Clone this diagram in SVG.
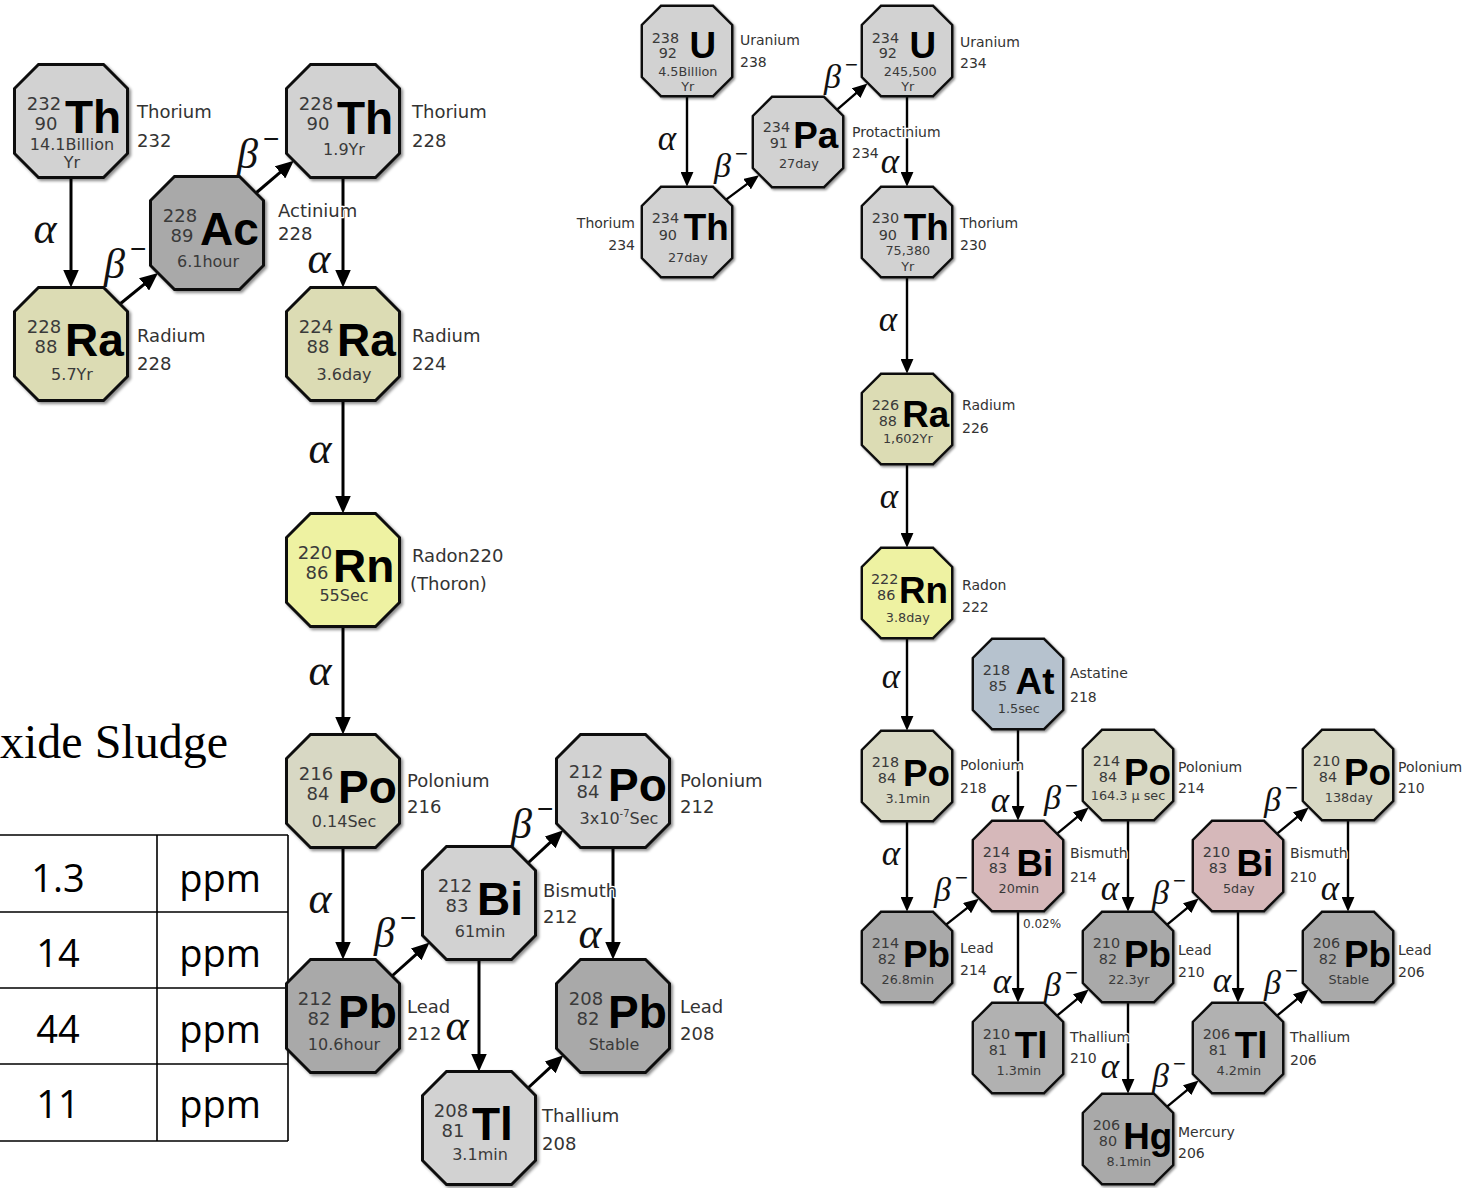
<svg xmlns="http://www.w3.org/2000/svg" xmlns:xlink="http://www.w3.org/1999/xlink" width="1481" height="1188" viewBox="0 0 1481 1188">
<style>
  .oct { stroke: #111; stroke-width: 3; stroke-linejoin: miter; }
  .f-lt { fill: #d2d2d2; }
  .f-dk { fill: #a9a9a9; }
  .f-tl { fill: #b1b1b1; }
  .f-ra { fill: #dcdcb4; }
  .f-rn { fill: #eef2a2; }
  .f-po { fill: #d8d8c4; }
  .f-at { fill: #b6c2ce; }
  .f-bi { fill: #d6b8ba; }
  .ms { font-family: "DejaVu Sans", sans-serif; font-size: 18px; fill: #3a3a3a; text-anchor: middle; }
  .sy { font-family: "Liberation Sans", Arial, sans-serif; font-weight: bold; font-size: 46px; fill: #000; }
  .hl { font-family: "DejaVu Sans", sans-serif; font-size: 16px; fill: #3a3a3a; text-anchor: middle; }
  .sup { font-size: 10px; }
  .nm-lg, .nm-sm { font-family: "DejaVu Sans", sans-serif; fill: #333; stroke: #fff; stroke-width: 2.5px; paint-order: stroke; stroke-linejoin: round; }
  .nm-lg { font-size: 18px; }
  .nm-sm { font-size: 14px; }
  .c-lg, .c-sm { stroke: #000; fill: none; }
  .c-lg { stroke-width: 3; marker-end: url(#ah-lg); }
  .c-sm { stroke-width: 2.4; marker-end: url(#ah-sm); }
  .ga-lg, .ga-sm, .gb-lg, .gb-sm { font-family: "Liberation Serif", "DejaVu Serif", serif; font-style: italic; fill: #111; }
  .ga-lg { font-size: 44px; text-anchor: middle; }
  .ga-sm { font-size: 35px; text-anchor: middle; }
  .gb-lg { font-size: 42px; }
  .gb-sm { font-size: 34px; }
  .mi-lg, .mi-sm { font-family: "Liberation Sans", sans-serif; font-style: normal; }
  .mi-lg { font-size: 28px; }
  .mi-sm { font-size: 22px; }
  .pct { font-family: "DejaVu Sans", sans-serif; font-size: 12px; fill: #333; }
  .tbl { stroke: #000; stroke-width: 1.6; fill: none; }
  .tv { font-family: "Open Sans", "Liberation Sans", sans-serif; font-size: 38px; fill: #000; text-anchor: middle; }
  .ttl { font-family: "Liberation Serif", "Times New Roman", serif; font-size: 48px; fill: #000; }
</style>
<defs>
  <filter id="shadow" x="-20%" y="-20%" width="150%" height="150%">
    <feDropShadow dx="2" dy="2" stdDeviation="1.5" flood-color="#000" flood-opacity="0.45"/>
  </filter>
  <path id="oct" class="oct" filter="url(#shadow)" d="M-32.5,-56.5 L32.5,-56.5 L56.5,-32.5 L56.5,32.5 L32.5,56.5 L-32.5,56.5 L-56.5,32.5 L-56.5,-32.5 Z"/>
  <marker id="ah-lg" viewBox="0 0 18 16" refX="2" refY="8" markerWidth="18" markerHeight="16" markerUnits="userSpaceOnUse" orient="auto">
    <path d="M0,0 L18,8 L0,16 Z" fill="#000"/>
  </marker>
  <marker id="ah-sm" viewBox="0 0 15 13" refX="2" refY="6.5" markerWidth="15" markerHeight="13" markerUnits="userSpaceOnUse" orient="auto">
    <path d="M0,0 L15,6.5 L0,13 Z" fill="#000"/>
  </marker>
</defs>

<rect width="1481" height="1188" fill="#fff"/>

<!-- sludge concentration table -->
<g id="table">
  <text class="ttl" x="0" y="758">xide Sludge</text>
  <path class="tbl" d="M0,835 H288 M0,912 H288 M0,988 H288 M0,1064 H288 M0,1141 H288 M157,835 V1141 M288,835 V1141"/>
  <text class="tv" x="58" y="892">1.3</text><text class="tv" x="220" y="892">ppm</text>
  <text class="tv" x="58" y="967">14</text><text class="tv" x="220" y="967">ppm</text>
  <text class="tv" x="58" y="1043">44</text><text class="tv" x="220" y="1043">ppm</text>
  <text class="tv" x="58" y="1118">11</text><text class="tv" x="220" y="1118">ppm</text>
</g>

<!-- decay arrows with their labels -->
<g id="connectors">
  <!-- thorium series -->
  <line class="c-lg" x1="71" y1="177.5" x2="71" y2="271.5"/>
  <text class="ga-lg" x="45" y="243">α</text>
  <line class="c-lg" x1="120" y1="304" x2="145.6" y2="283.1"/>
  <text class="gb-lg" x="104" y="278">β<tspan class="mi-lg" dx="5" dy="-20">−</tspan></text>
  <line class="c-lg" x1="256" y1="193" x2="281.6" y2="171.1"/>
  <text class="gb-lg" x="237" y="168">β<tspan class="mi-lg" dx="5" dy="-20">−</tspan></text>
  <line class="c-lg" x1="343" y1="177.5" x2="343" y2="271.5"/>
  <text class="ga-lg" x="319" y="273">α</text>
  <line class="c-lg" x1="343" y1="400.5" x2="343" y2="497.5"/>
  <text class="ga-lg" x="320" y="463">α</text>
  <line class="c-lg" x1="343" y1="626.5" x2="343" y2="718.5"/>
  <text class="ga-lg" x="320" y="685">α</text>
  <line class="c-lg" x1="343" y1="847.5" x2="343" y2="943.5"/>
  <text class="ga-lg" x="320" y="913">α</text>
  <line class="c-lg" x1="392" y1="976" x2="417.6" y2="953.1"/>
  <text class="gb-lg" x="374" y="947">β<tspan class="mi-lg" dx="5" dy="-20">−</tspan></text>
  <line class="c-lg" x1="528" y1="863" x2="551.6" y2="841.1"/>
  <text class="gb-lg" x="511" y="838">β<tspan class="mi-lg" dx="5" dy="-20">−</tspan></text>
  <line class="c-lg" x1="479" y1="959.5" x2="479" y2="1055.5"/>
  <text class="ga-lg" x="457" y="1040">α</text>
  <line class="c-lg" x1="613" y1="847.5" x2="613" y2="943.5"/>
  <text class="ga-lg" x="590" y="948">α</text>
  <line class="c-lg" x1="528" y1="1088" x2="551.6" y2="1066.1"/>

  <!-- uranium series -->
  <line class="c-sm" x1="687" y1="96.2" x2="687" y2="173.8"/>
  <text class="ga-sm" x="667" y="150">α</text>
  <line class="c-sm" x1="726.4" y1="199.4" x2="748.6" y2="182.9"/>
  <text class="gb-sm" x="714" y="177">β<tspan class="mi-sm" dx="4" dy="-16">−</tspan></text>
  <line class="c-sm" x1="837.4" y1="109.4" x2="857.6" y2="91.9"/>
  <text class="gb-sm" x="824" y="88">β<tspan class="mi-sm" dx="4" dy="-16">−</tspan></text>
  <line class="c-sm" x1="907" y1="96.2" x2="907" y2="173.8"/>
  <text class="ga-sm" x="890" y="173">α</text>
  <line class="c-sm" x1="907" y1="277.2" x2="907" y2="360.8"/>
  <text class="ga-sm" x="888" y="331">α</text>
  <line class="c-sm" x1="907" y1="464.2" x2="907" y2="534.8"/>
  <text class="ga-sm" x="889" y="508">α</text>
  <line class="c-sm" x1="907" y1="638.2" x2="907" y2="717.8"/>
  <text class="ga-sm" x="891" y="688">α</text>
  <line class="c-sm" x1="1018" y1="729.2" x2="1018" y2="807.8"/>
  <text class="ga-sm" x="1000" y="812">α</text>
  <line class="c-sm" x1="907" y1="821.2" x2="907" y2="898.8"/>
  <text class="ga-sm" x="891" y="865">α</text>
  <line class="c-sm" x1="946.4" y1="924.4" x2="968.6" y2="906.9"/>
  <text class="gb-sm" x="934" y="901">β<tspan class="mi-sm" dx="4" dy="-16">−</tspan></text>
  <line class="c-sm" x1="1057.4" y1="833.4" x2="1078.6" y2="815.9"/>
  <text class="gb-sm" x="1044" y="809">β<tspan class="mi-sm" dx="4" dy="-16">−</tspan></text>
  <line class="c-sm" x1="1018" y1="911.2" x2="1018" y2="989.8"/>
  <text class="pct" x="1023" y="928">0.02%</text>
  <text class="ga-sm" x="1002" y="993">α</text>
  <line class="c-sm" x1="1057.4" y1="1015.4" x2="1078.6" y2="997.9"/>
  <text class="gb-sm" x="1044" y="996">β<tspan class="mi-sm" dx="4" dy="-16">−</tspan></text>
  <line class="c-sm" x1="1128" y1="820.2" x2="1128" y2="898.8"/>
  <text class="ga-sm" x="1110" y="900">α</text>
  <line class="c-sm" x1="1167.4" y1="924.4" x2="1188.6" y2="906.9"/>
  <text class="gb-sm" x="1152" y="904">β<tspan class="mi-sm" dx="4" dy="-16">−</tspan></text>
  <line class="c-sm" x1="1277.4" y1="833.4" x2="1298.6" y2="815.9"/>
  <text class="gb-sm" x="1264" y="811">β<tspan class="mi-sm" dx="4" dy="-16">−</tspan></text>
  <line class="c-sm" x1="1238" y1="911.2" x2="1238" y2="989.8"/>
  <text class="ga-sm" x="1222" y="992">α</text>
  <line class="c-sm" x1="1348" y1="820.2" x2="1348" y2="898.8"/>
  <text class="ga-sm" x="1330" y="900">α</text>
  <line class="c-sm" x1="1277.4" y1="1015.4" x2="1298.6" y2="997.9"/>
  <text class="gb-sm" x="1264" y="994">β<tspan class="mi-sm" dx="4" dy="-16">−</tspan></text>
  <line class="c-sm" x1="1128" y1="1002.2" x2="1128" y2="1080.8"/>
  <text class="ga-sm" x="1110" y="1078">α</text>
  <line class="c-sm" x1="1167.4" y1="1106.4" x2="1188.6" y2="1088.9"/>
  <text class="gb-sm" x="1152" y="1087">β<tspan class="mi-sm" dx="4" dy="-16">−</tspan></text>
</g>

<!-- thorium series nodes -->
<g id="n-th232">
  <g transform="translate(71,121)">
    <use xlink:href="#oct" href="#oct" class="f-lt"/>
    <text class="ms" x="-27" y="-11">232</text><text class="ms" x="-25" y="9">90</text>
    <text class="sy" x="-6" y="12">Th</text>
    <text class="hl" x="1" y="29">14.1Billion</text><text class="hl" x="1" y="47">Yr</text>
  </g>
  <text class="nm-lg" x="137" y="118">Thorium</text><text class="nm-lg" x="137" y="147">232</text>
</g>
<g id="n-ac228">
  <g transform="translate(207,233)">
    <use xlink:href="#oct" href="#oct" class="f-dk"/>
    <text class="ms" x="-27" y="-11">228</text><text class="ms" x="-25" y="9">89</text>
    <text class="sy" x="-7" y="12">Ac</text>
    <text class="hl" x="1" y="34">6.1hour</text>
  </g>
  <text class="nm-lg" x="278" y="217">Actinium</text><text class="nm-lg" x="278" y="240">228</text>
</g>
<g id="n-th228">
  <g transform="translate(343,121)">
    <use xlink:href="#oct" href="#oct" class="f-lt"/>
    <text class="ms" x="-27" y="-11">228</text><text class="ms" x="-25" y="9">90</text>
    <text class="sy" x="-6" y="13">Th</text>
    <text class="hl" x="1" y="34">1.9Yr</text>
  </g>
  <text class="nm-lg" x="412" y="118">Thorium</text><text class="nm-lg" x="412" y="147">228</text>
</g>
<g id="n-ra228">
  <g transform="translate(71,344)">
    <use xlink:href="#oct" href="#oct" class="f-ra"/>
    <text class="ms" x="-27" y="-11">228</text><text class="ms" x="-25" y="9">88</text>
    <text class="sy" x="-6" y="12">Ra</text>
    <text class="hl" x="1" y="36">5.7Yr</text>
  </g>
  <text class="nm-lg" x="137" y="342">Radium</text><text class="nm-lg" x="137" y="370">228</text>
</g>
<g id="n-ra224">
  <g transform="translate(343,344)">
    <use xlink:href="#oct" href="#oct" class="f-ra"/>
    <text class="ms" x="-27" y="-11">224</text><text class="ms" x="-25" y="9">88</text>
    <text class="sy" x="-6" y="12">Ra</text>
    <text class="hl" x="1" y="36">3.6day</text>
  </g>
  <text class="nm-lg" x="412" y="342">Radium</text><text class="nm-lg" x="412" y="370">224</text>
</g>
<g id="n-rn220">
  <g transform="translate(343,570)">
    <use xlink:href="#oct" href="#oct" class="f-rn"/>
    <text class="ms" x="-28" y="-11">220</text><text class="ms" x="-26" y="9">86</text>
    <text class="sy" x="-10" y="12">Rn</text>
    <text class="hl" x="1" y="31">55Sec</text>
  </g>
  <text class="nm-lg" x="412" y="562">Radon220</text><text class="nm-lg" x="410" y="590">(Thoron)</text>
</g>
<g id="n-po216">
  <g transform="translate(343,791)">
    <use xlink:href="#oct" href="#oct" class="f-po"/>
    <text class="ms" x="-27" y="-11">216</text><text class="ms" x="-25" y="9">84</text>
    <text class="sy" x="-5" y="12">Po</text>
    <text class="hl" x="1" y="36">0.14Sec</text>
  </g>
  <text class="nm-lg" x="407" y="787">Polonium</text><text class="nm-lg" x="407" y="813">216</text>
</g>
<g id="n-pb212">
  <g transform="translate(343,1016)">
    <use xlink:href="#oct" href="#oct" class="f-dk"/>
    <text class="ms" x="-28" y="-11">212</text><text class="ms" x="-24" y="9">82</text>
    <text class="sy" x="-5" y="12">Pb</text>
    <text class="hl" x="1" y="34">10.6hour</text>
  </g>
  <text class="nm-lg" x="407" y="1013">Lead</text><text class="nm-lg" x="407" y="1040">212</text>
</g>
<g id="n-bi212">
  <g transform="translate(479,903)">
    <use xlink:href="#oct" href="#oct" class="f-lt"/>
    <text class="ms" x="-24" y="-11">212</text><text class="ms" x="-22" y="9">83</text>
    <text class="sy" x="-2" y="12">Bi</text>
    <text class="hl" x="1" y="34">61min</text>
  </g>
  <text class="nm-lg" x="543" y="897">Bismuth</text><text class="nm-lg" x="543" y="923">212</text>
</g>
<g id="n-po212">
  <g transform="translate(613,791)">
    <use xlink:href="#oct" href="#oct" class="f-lt"/>
    <text class="ms" x="-27" y="-13">212</text><text class="ms" x="-25" y="7">84</text>
    <text class="sy" x="-5" y="10">Po</text>
    <text class="hl" x="6" y="33">3x10<tspan class="sup" dy="-7">-7</tspan><tspan dy="7">Sec</tspan></text>
  </g>
  <text class="nm-lg" x="680" y="787">Polonium</text><text class="nm-lg" x="680" y="813">212</text>
</g>
<g id="n-pb208">
  <g transform="translate(613,1016)">
    <use xlink:href="#oct" href="#oct" class="f-dk"/>
    <text class="ms" x="-27" y="-11">208</text><text class="ms" x="-25" y="9">82</text>
    <text class="sy" x="-5" y="12">Pb</text>
    <text class="hl" x="1" y="34">Stable</text>
  </g>
  <text class="nm-lg" x="680" y="1013">Lead</text><text class="nm-lg" x="680" y="1040">208</text>
</g>
<g id="n-tl208">
  <g transform="translate(479,1128)">
    <use xlink:href="#oct" href="#oct" class="f-lt"/>
    <text class="ms" x="-28" y="-11">208</text><text class="ms" x="-26" y="9">81</text>
    <text class="sy" x="-7" y="12">Tl</text>
    <text class="hl" x="1" y="32">3.1min</text>
  </g>
  <text class="nm-lg" x="542" y="1122">Thallium</text><text class="nm-lg" x="542" y="1150">208</text>
</g>

<!-- uranium series nodes -->
<g id="n-u238">
  <g transform="translate(687,51) scale(0.8)">
    <use xlink:href="#oct" href="#oct" class="f-lt"/>
    <text class="ms" x="-27" y="-10">238</text><text class="ms" x="-24" y="9">92</text>
    <text class="sy" x="3" y="9">U</text>
    <text class="hl" x="1" y="31">4.5Billion</text><text class="hl" x="1" y="50">Yr</text>
  </g>
  <text class="nm-sm" x="740" y="45">Uranium</text><text class="nm-sm" x="740" y="67">238</text>
</g>
<g id="n-th234">
  <g transform="translate(687,232) scale(0.8)">
    <use xlink:href="#oct" href="#oct" class="f-lt"/>
    <text class="ms" x="-27" y="-11">234</text><text class="ms" x="-24" y="10">90</text>
    <text class="sy" x="-4" y="10">Th</text>
    <text class="hl" x="1" y="37">27day</text>
  </g>
  <text class="nm-sm" x="635" y="228" text-anchor="end">Thorium</text><text class="nm-sm" x="635" y="250" text-anchor="end">234</text>
</g>
<g id="n-pa234">
  <g transform="translate(798,142) scale(0.8)">
    <use xlink:href="#oct" href="#oct" class="f-lt"/>
    <text class="ms" x="-27" y="-12">234</text><text class="ms" x="-24" y="8">91</text>
    <text class="sy" x="-6" y="8">Pa</text>
    <text class="hl" x="1" y="32">27day</text>
  </g>
  <text class="nm-sm" x="852" y="137">Protactinium</text><text class="nm-sm" x="852" y="158">234</text>
</g>
<g id="n-u234">
  <g transform="translate(907,51) scale(0.8)">
    <use xlink:href="#oct" href="#oct" class="f-lt"/>
    <text class="ms" x="-27" y="-10">234</text><text class="ms" x="-24" y="9">92</text>
    <text class="sy" x="3" y="9">U</text>
    <text class="hl" x="4" y="31">245,500</text><text class="hl" x="1" y="50">Yr</text>
  </g>
  <text class="nm-sm" x="960" y="47">Uranium</text><text class="nm-sm" x="960" y="68">234</text>
</g>
<g id="n-th230">
  <g transform="translate(907,232) scale(0.8)">
    <use xlink:href="#oct" href="#oct" class="f-lt"/>
    <text class="ms" x="-27" y="-11">230</text><text class="ms" x="-24" y="10">90</text>
    <text class="sy" x="-4" y="10">Th</text>
    <text class="hl" x="1" y="29">75,380</text><text class="hl" x="1" y="49">Yr</text>
  </g>
  <text class="nm-sm" x="960" y="228">Thorium</text><text class="nm-sm" x="960" y="250">230</text>
</g>
<g id="n-ra226">
  <g transform="translate(907,419) scale(0.8)">
    <use xlink:href="#oct" href="#oct" class="f-ra"/>
    <text class="ms" x="-27" y="-11">226</text><text class="ms" x="-24" y="9">88</text>
    <text class="sy" x="-6" y="10">Ra</text>
    <text class="hl" x="1" y="30">1,602Yr</text>
  </g>
  <text class="nm-sm" x="962" y="410">Radium</text><text class="nm-sm" x="962" y="433">226</text>
</g>
<g id="n-rn222">
  <g transform="translate(907,593) scale(0.8)">
    <use xlink:href="#oct" href="#oct" class="f-rn"/>
    <text class="ms" x="-28" y="-11">222</text><text class="ms" x="-26" y="9">86</text>
    <text class="sy" x="-10" y="12">Rn</text>
    <text class="hl" x="1" y="36">3.8day</text>
  </g>
  <text class="nm-sm" x="962" y="590">Radon</text><text class="nm-sm" x="962" y="612">222</text>
</g>
<g id="n-at218">
  <g transform="translate(1018,684) scale(0.8)">
    <use xlink:href="#oct" href="#oct" class="f-at"/>
    <text class="ms" x="-27" y="-11">218</text><text class="ms" x="-25" y="9">85</text>
    <text class="sy" x="-3" y="12">At</text>
    <text class="hl" x="1" y="36">1.5sec</text>
  </g>
  <text class="nm-sm" x="1070" y="678">Astatine</text><text class="nm-sm" x="1070" y="702">218</text>
</g>
<g id="n-po218">
  <g transform="translate(907,776) scale(0.8)">
    <use xlink:href="#oct" href="#oct" class="f-po"/>
    <text class="ms" x="-27" y="-11">218</text><text class="ms" x="-25" y="9">84</text>
    <text class="sy" x="-5" y="12">Po</text>
    <text class="hl" x="1" y="34">3.1min</text>
  </g>
  <text class="nm-sm" x="960" y="770">Polonium</text><text class="nm-sm" x="960" y="793">218</text>
</g>
<g id="n-bi214">
  <g transform="translate(1018,866) scale(0.8)">
    <use xlink:href="#oct" href="#oct" class="f-bi"/>
    <text class="ms" x="-27" y="-11">214</text><text class="ms" x="-25" y="9">83</text>
    <text class="sy" x="-2" y="12">Bi</text>
    <text class="hl" x="1" y="34">20min</text>
  </g>
  <text class="nm-sm" x="1070" y="858">Bismuth</text><text class="nm-sm" x="1070" y="882">214</text>
</g>
<g id="n-pb214">
  <g transform="translate(907,957) scale(0.8)">
    <use xlink:href="#oct" href="#oct" class="f-dk"/>
    <text class="ms" x="-27" y="-11">214</text><text class="ms" x="-25" y="9">82</text>
    <text class="sy" x="-5" y="12">Pb</text>
    <text class="hl" x="1" y="34">26.8min</text>
  </g>
  <text class="nm-sm" x="960" y="953">Lead</text><text class="nm-sm" x="960" y="975">214</text>
</g>
<g id="n-tl210">
  <g transform="translate(1018,1048) scale(0.8)">
    <use xlink:href="#oct" href="#oct" class="f-tl"/>
    <text class="ms" x="-27" y="-11">210</text><text class="ms" x="-25" y="9">81</text>
    <text class="sy" x="-4" y="12">Tl</text>
    <text class="hl" x="1" y="34">1.3min</text>
  </g>
  <text class="nm-sm" x="1070" y="1042">Thallium</text><text class="nm-sm" x="1070" y="1063">210</text>
</g>
<g id="n-po214">
  <g transform="translate(1128,775) scale(0.8)">
    <use xlink:href="#oct" href="#oct" class="f-po"/>
    <text class="ms" x="-27" y="-11">214</text><text class="ms" x="-25" y="9">84</text>
    <text class="sy" x="-5" y="12">Po</text>
    <text class="hl" x="0" y="31">164.3 μ sec</text>
  </g>
  <text class="nm-sm" x="1178" y="772">Polonium</text><text class="nm-sm" x="1178" y="793">214</text>
</g>
<g id="n-pb210">
  <g transform="translate(1128,957) scale(0.8)">
    <use xlink:href="#oct" href="#oct" class="f-dk"/>
    <text class="ms" x="-27" y="-11">210</text><text class="ms" x="-25" y="9">82</text>
    <text class="sy" x="-5" y="12">Pb</text>
    <text class="hl" x="1" y="34">22.3yr</text>
  </g>
  <text class="nm-sm" x="1178" y="955">Lead</text><text class="nm-sm" x="1178" y="977">210</text>
</g>
<g id="n-bi210">
  <g transform="translate(1238,866) scale(0.8)">
    <use xlink:href="#oct" href="#oct" class="f-bi"/>
    <text class="ms" x="-27" y="-11">210</text><text class="ms" x="-25" y="9">83</text>
    <text class="sy" x="-2" y="12">Bi</text>
    <text class="hl" x="1" y="34">5day</text>
  </g>
  <text class="nm-sm" x="1290" y="858">Bismuth</text><text class="nm-sm" x="1290" y="882">210</text>
</g>
<g id="n-po210">
  <g transform="translate(1348,775) scale(0.8)">
    <use xlink:href="#oct" href="#oct" class="f-po"/>
    <text class="ms" x="-27" y="-11">210</text><text class="ms" x="-25" y="9">84</text>
    <text class="sy" x="-5" y="12">Po</text>
    <text class="hl" x="1" y="34">138day</text>
  </g>
  <text class="nm-sm" x="1398" y="772">Polonium</text><text class="nm-sm" x="1398" y="793">210</text>
</g>
<g id="n-pb206">
  <g transform="translate(1348,957) scale(0.8)">
    <use xlink:href="#oct" href="#oct" class="f-dk"/>
    <text class="ms" x="-27" y="-11">206</text><text class="ms" x="-25" y="9">82</text>
    <text class="sy" x="-5" y="12">Pb</text>
    <text class="hl" x="1" y="34">Stable</text>
  </g>
  <text class="nm-sm" x="1398" y="955">Lead</text><text class="nm-sm" x="1398" y="977">206</text>
</g>
<g id="n-tl206">
  <g transform="translate(1238,1048) scale(0.8)">
    <use xlink:href="#oct" href="#oct" class="f-tl"/>
    <text class="ms" x="-27" y="-11">206</text><text class="ms" x="-25" y="9">81</text>
    <text class="sy" x="-4" y="12">Tl</text>
    <text class="hl" x="1" y="34">4.2min</text>
  </g>
  <text class="nm-sm" x="1290" y="1042">Thallium</text><text class="nm-sm" x="1290" y="1065">206</text>
</g>
<g id="n-hg206">
  <g transform="translate(1128,1139) scale(0.8)">
    <use xlink:href="#oct" href="#oct" class="f-dk"/>
    <text class="ms" x="-27" y="-11">206</text><text class="ms" x="-25" y="9">80</text>
    <text class="sy" x="-6" y="12">Hg</text>
    <text class="hl" x="1" y="34">8.1min</text>
  </g>
  <text class="nm-sm" x="1178" y="1137">Mercury</text><text class="nm-sm" x="1178" y="1158">206</text>
</g>
</svg>
